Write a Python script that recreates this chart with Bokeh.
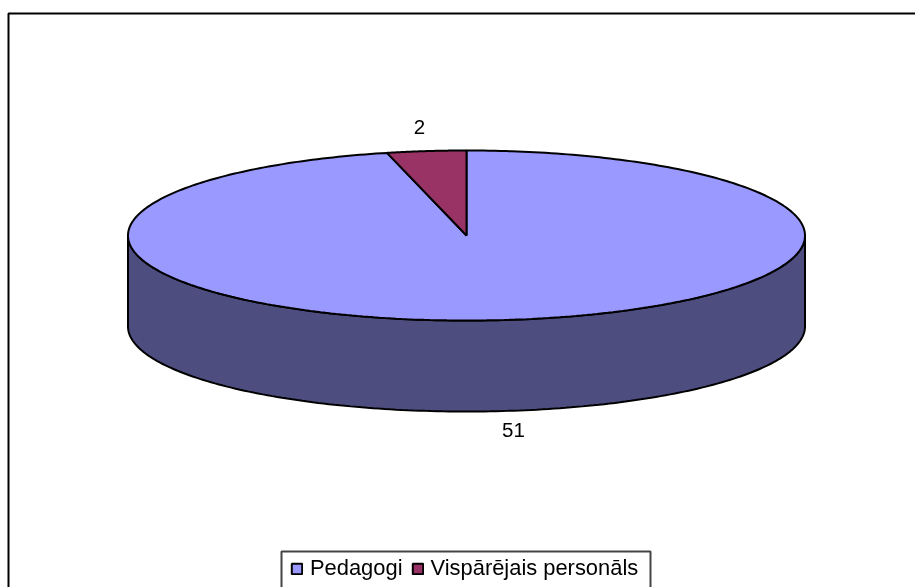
import numpy as np
from bokeh.plotting import figure
from bokeh.models import Range1d, Legend, LegendItem
from bokeh.core.properties import value
from bokeh.embed import file_html
from bokeh.resources import INLINE

categories = ["Pedagogi", "Vispārējais personāls"]
values = [51, 2]
colors = ["#9999FF", "#993366"]
side_color = "#4D4D80"

W, H = 915, 587
CX, CY, RX, RY, DEPTH = 466.0, 235.0, 338.5, 85.0, 91.0

p = figure(width=W, height=H, output_backend="svg", toolbar_location=None,
           x_range=Range1d(0, W), y_range=Range1d(H, 0),
           min_border=0, outline_line_color=None, background_fill_color="white",
           styles={"position": "fixed", "left": "0px", "top": "0px"})
p.xaxis.visible = False
p.yaxis.visible = False
p.grid.visible = False


def ex(t):
    return CX + RX * np.sin(t)


def ey(t):
    return CY - RY * np.cos(t)


# chart border
p.line([8, 8, 915], [587, 13, 13], line_color="black", line_width=2)

# legend frame
p.line([281, 281, 650, 650], [587, 551, 551, 587], line_color="#444444", line_width=2)

# side of the disc (front half)
t = np.linspace(np.pi / 2, 3 * np.pi / 2, 181)
sx = np.r_[ex(t), ex(t[::-1])]
sy = np.r_[ey(t), ey(t[::-1]) + DEPTH]
p.patch(sx, sy, fill_color=side_color, line_color="black", line_width=2)

# top face, clockwise from 12 o'clock
fracs = np.cumsum([0] + values) / sum(values) * 2 * np.pi
renderers = []
for i, c in enumerate(colors):
    a = np.linspace(fracs[i], fracs[i + 1], 360)
    r = p.patch(np.r_[CX, ex(a)], np.r_[CY, ey(a)], fill_color=c,
                line_color="black", line_width=2)
    renderers.append(r)

# data labels
p.text([419, 513], [126.5, 429], text=[str(v) for v in values[::-1]],
       text_font=value("Liberation Sans"), text_font_size="20.5px",
       text_align="center", text_baseline="middle", text_color="black")

legend = Legend(
    items=[LegendItem(label=value(n), renderers=[r]) for n, r in zip(categories, renderers)],
    orientation="horizontal", location=(290, 6),
    border_line_color=None, background_fill_alpha=0,
    label_text_font="Liberation Sans", label_text_font_size="21.9px",
    label_text_color="black",
    glyph_width=13, glyph_height=13, spacing=8, padding=3, margin=0,
    label_standoff=7,
)
p.add_layout(legend, "center")

open("out.html", "w").write(file_html(p, INLINE))
